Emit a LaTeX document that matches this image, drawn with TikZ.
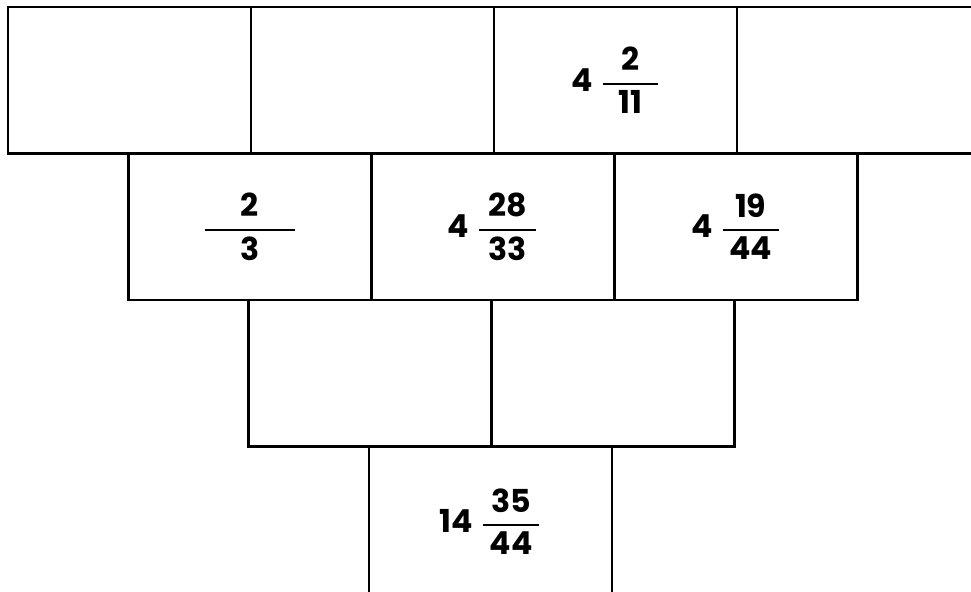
\documentclass[tikz,border=0pt]{standalone}
\usepackage{amsmath}
\usepackage{fontspec}
\setmainfont{Poppins}
\usepackage{tikz}

\newcommand{\mixnum}[4]{#1\hspace{0.16cm}$\genfrac{}{}{1.1pt}{0}{\makebox[#4]{#2}}{\makebox[#4]{#3}}$}
\newcommand{\fracnum}[3]{$\genfrac{}{}{1.1pt}{0}{\makebox[#3]{#1}}{\makebox[#3]{#2}}$}

\tikzset{
  cell/.style={draw, line width=1.5pt, minimum width=4.86cm, minimum height=2.93cm,
    inner sep=0pt, font=\fontsize{18}{21}\selectfont\bfseries}
}

\begin{document}
\begin{tikzpicture}[x=0.02cm, y=-0.02cm]
      % Page frame
      \clip (0,0) rectangle (971,592);

      % Row 1
      \node[cell] (top1) at (129.5,80.25) {};
      \node[cell] (top2) at (372.5,80.25) {};
      \node[cell] (top3) at (615.5,80.25) {\mixnum{4}{2}{11}{1.1cm}};
      \node[cell] (top4) at (858.5,80.25) {};

      % Row 2
      \node[cell] (mid1) at (250,226.75) {\fracnum{2}{3}{1.82cm}};
      \node[cell] (mid2) at (493,226.75) {\mixnum{4}{28}{33}{1.14cm}};
      \node[cell] (mid3) at (736,226.75) {\mixnum{4}{19}{44}{1.12cm}};

      % Row 3
      \node[cell] (low1) at (370,373.25) {};
      \node[cell] (low2) at (613,373.25) {};

      % Row 4
      \node[cell, minimum height=3cm] (base) at (490.5,521.5) {\mixnum{14}{35}{44}{1.12cm}};

  \end{tikzpicture}
\end{document}
